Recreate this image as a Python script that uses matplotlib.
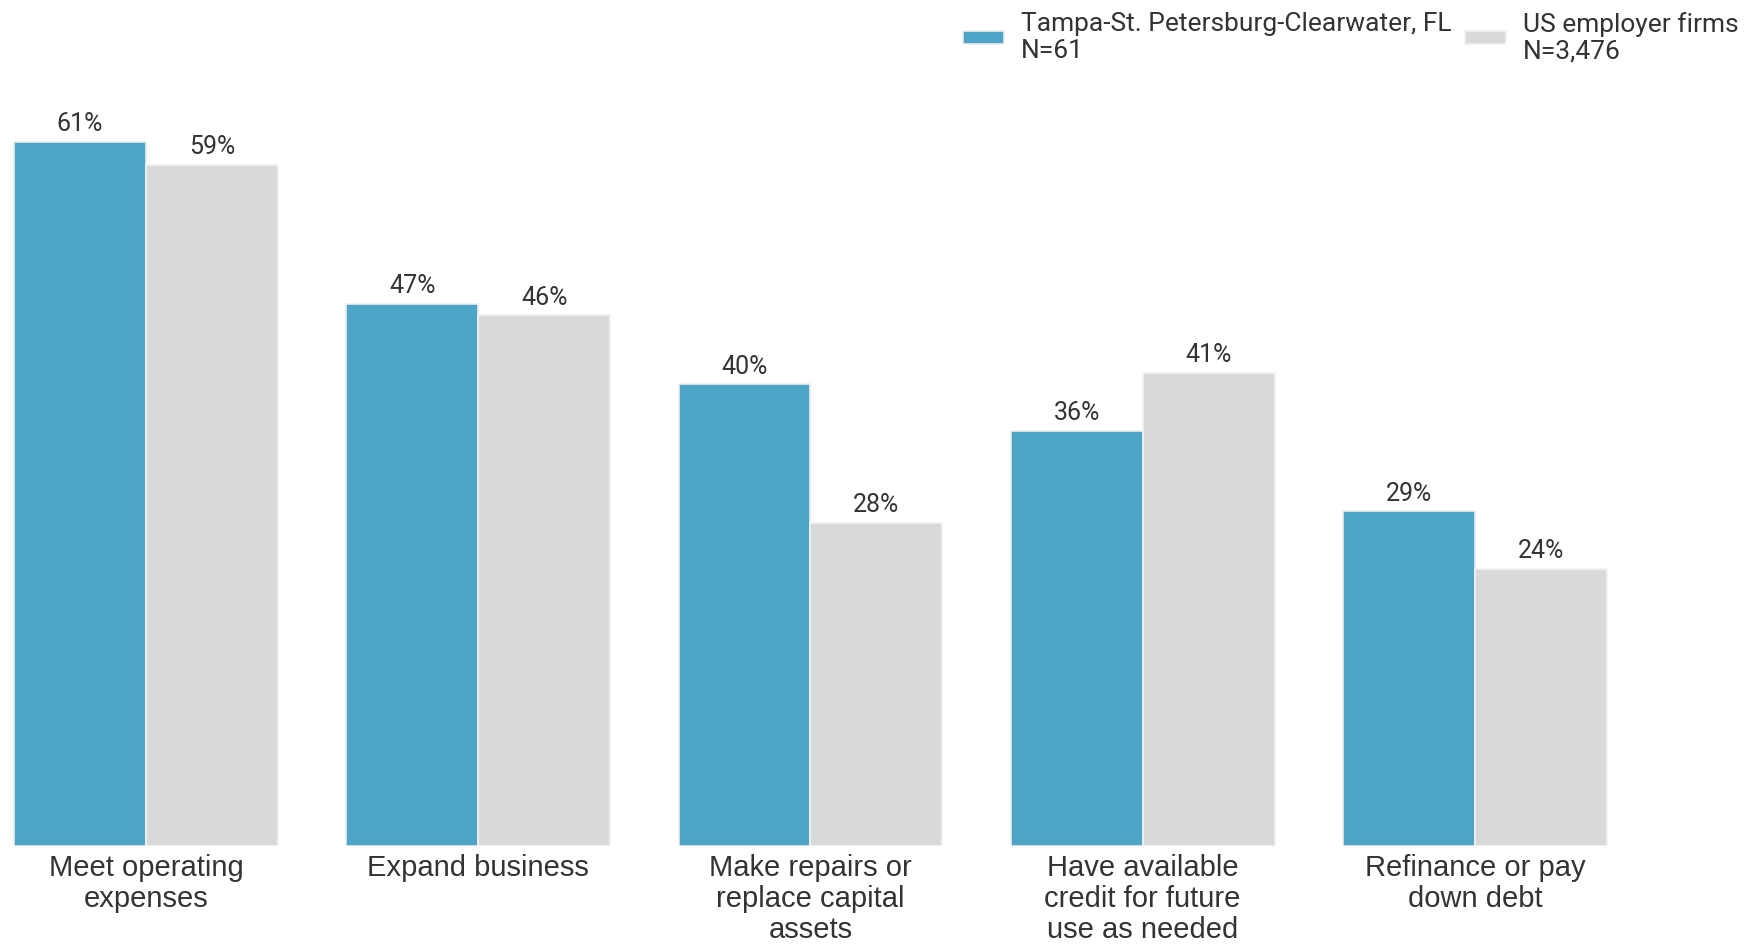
import matplotlib.pyplot as plt
import numpy as np

# Survey data: share of firms by reason for seeking financing
categories = [
    "Meet operating\nexpenses",
    "Expand business",
    "Make repairs or\nreplace capital\nassets",
    "Have available\ncredit for future\nuse as needed",
    "Refinance or pay\ndown debt",
]
tampa = [61, 47, 40, 36, 29]
us_firms = [59, 46, 28, 41, 24]
series_labels = ["Tampa-St. Petersburg-Clearwater, FL\nN=61", "US employer firms\nN=3,476"]

blue = "#4CA4C7"
grey = "#D9D9D9"
text_color = "#333333"

fig = plt.figure(figsize=(17.52, 9.44), dpi=100)
ax = fig.add_axes([0, 98 / 944, 1, 846 / 944])

x = np.arange(len(categories))
w = 0.397
b1 = ax.bar(x - w / 2, tampa, w, color=blue, edgecolor="#EDEDED", linewidth=1.2,
            label=series_labels[0])
b2 = ax.bar(x + w / 2, us_firms, w, color=grey, edgecolor="#F2F2F2", linewidth=1.2,
            label=series_labels[1])

# value labels on top of each bar
for bars, vals in [(b1, tampa), (b2, us_firms)]:
    for rect, v in zip(bars, vals):
        ax.annotate(f"{v}%", (rect.get_x() + rect.get_width() / 2, v),
                    xytext=(0, 4), textcoords="offset points",
                    ha="center", va="bottom", fontsize=18,
                    family="Roboto", color=text_color)

ax.set_xlim(-0.4394, 4.834)
ax.set_ylim(0, 73.3)
ax.set_xticks(x)
ax.set_xticklabels(categories, fontsize=21, family="Liberation Sans",
                   color=text_color, linespacing=1.13)
ax.tick_params(axis="x", length=0, pad=6)
ax.set_yticks([])
for s in ax.spines.values():
    s.set_visible(False)

leg = fig.legend(handles=[b1, b2], labels=series_labels, loc="upper right",
                 bbox_to_anchor=(0.999, 1.0), ncol=2, frameon=False,
                 prop={"family": "Roboto", "size": 19},
                 handlelength=1.55, handleheight=0.4, handletextpad=0.65,
                 columnspacing=0.5, labelcolor=text_color, borderaxespad=0.05)
for t in leg.get_texts():
    t.set_linespacing(1.12)

fig.savefig("out.png", dpi=100)
